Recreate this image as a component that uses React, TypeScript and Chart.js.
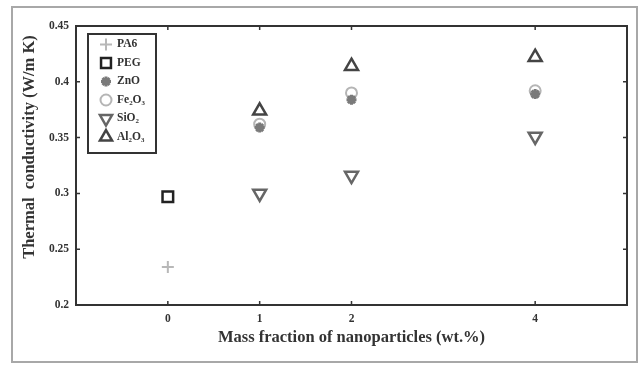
import React, { useEffect, useRef } from "react";
import { Chart, registerables } from "chart.js";

Chart.register(...registerables);

const xTicks = [0, 1, 2, 4];
const yTicks = [0.2, 0.25, 0.3, 0.35, 0.4, 0.45];
const seriesNames = ["PA6", "PEG", "ZnO", "Fe₂O₃", "SiO₂", "Al₂O₃"];
const pa6X = [0];
const pa6Y = [0.234];
const pegX = [0];
const pegY = [0.297];
const znoX = [1, 2, 4];
const znoY = [0.359, 0.384, 0.389];
const fe2o3X = [1, 2, 4];
const fe2o3Y = [0.362, 0.39, 0.392];
const sio2X = [1, 2, 4];
const sio2Y = [0.3, 0.316, 0.351];
const al2o3X = [1, 2, 4];
const al2o3Y = [0.374, 0.414, 0.422];

const FONT = "'Liberation Serif', 'Times New Roman', serif";

const styles = [
  { color: "#b8b8b8", style: "cross", radius: 6, bw: 2, rot: 0 },
  { color: "#222222", style: "rect", radius: 7.5, bw: 2.5, rot: 0 },
  { color: "#7a7a7a", style: "star", radius: 5, bw: 3, rot: 0 },
  { color: "#b5b5b5", style: "circle", radius: 5.5, bw: 2, rot: 0 },
  { color: "#666666", style: "triangle", radius: 7.5, bw: 2.5, rot: 180 },
  { color: "#444444", style: "triangle", radius: 7.5, bw: 2.5, rot: 0 },
];

function pts(xs: number[], ys: number[]) {
  return xs.map((x, i) => ({ x, y: ys[i] }));
}

function drawMarker(ctx: CanvasRenderingContext2D, s: any, x: number, y: number) {
  ctx.save();
  ctx.strokeStyle = s.color;
  ctx.fillStyle = s.color;
  ctx.lineWidth = s.bw;
  ctx.beginPath();
  const r = s.radius;
  if (s.style === "cross") {
    ctx.moveTo(x - r, y); ctx.lineTo(x + r, y);
    ctx.moveTo(x, y - r); ctx.lineTo(x, y + r);
    ctx.stroke();
  } else if (s.style === "rect") {
    const h = Math.SQRT1_2 * r;
    ctx.rect(x - h, y - h, 2 * h, 2 * h);
    ctx.stroke();
  } else if (s.style === "star") {
    for (let k = 0; k < 4; k++) {
      const a = (k * Math.PI) / 4;
      ctx.moveTo(x + Math.sin(a) * r, y - Math.cos(a) * r);
      ctx.lineTo(x - Math.sin(a) * r, y + Math.cos(a) * r);
    }
    ctx.stroke();
  } else if (s.style === "circle") {
    ctx.arc(x, y, r, 0, Math.PI * 2);
    ctx.stroke();
  } else if (s.style === "triangle") {
    let a = (s.rot * Math.PI) / 180;
    ctx.moveTo(x + Math.sin(a) * r, y - Math.cos(a) * r);
    for (let k = 0; k < 2; k++) {
      a += (2 * Math.PI) / 3;
      ctx.lineTo(x + Math.sin(a) * r, y - Math.cos(a) * r);
    }
    ctx.closePath();
    ctx.stroke();
  }
  ctx.restore();
}

const decorPlugin = {
  id: "decor",
  afterDraw(chart: any) {
    const ctx: CanvasRenderingContext2D = chart.ctx;
    const { left, right, top, bottom } = chart.chartArea;
    const xs = chart.scales.x;
    const ys = chart.scales.y;
    ctx.save();
    // outer frame
    ctx.strokeStyle = "#a8a8a8";
    ctx.lineWidth = 2;
    ctx.strokeRect(12, 7, 625, 355);
    // plot frame
    ctx.strokeStyle = "#333333";
    ctx.lineWidth = 2;
    ctx.strokeRect(left, top, right - left, bottom - top);
    // inward ticks
    ctx.lineWidth = 1.5;
    ctx.beginPath();
    xTicks.forEach((v) => {
      const px = xs.getPixelForValue(v);
      ctx.moveTo(px, bottom); ctx.lineTo(px, bottom - 4);
      ctx.moveTo(px, top); ctx.lineTo(px, top + 4);
    });
    yTicks.forEach((v) => {
      const py = ys.getPixelForValue(v);
      ctx.moveTo(left, py); ctx.lineTo(left + 4, py);
      ctx.moveTo(right, py); ctx.lineTo(right - 4, py);
    });
    ctx.stroke();
    // axis titles
    ctx.fillStyle = "#333333";
    ctx.font = "bold 16.5px " + FONT;
    ctx.textAlign = "center";
    ctx.textBaseline = "middle";
    ctx.fillText("Mass fraction of nanoparticles (wt.%)", (left + right) / 2, 338);
    ctx.save();
    ctx.translate(30, 147);
    ctx.rotate(-Math.PI / 2);
    ctx.fillText("Thermal  conductivity (W/m K)", 0, 0);
    ctx.restore();
    // legend
    const lx = 88, ly = 34, lw = 68, lh = 119;
    ctx.fillStyle = "#ffffff";
    ctx.fillRect(lx, ly, lw, lh);
    ctx.strokeStyle = "#333333";
    ctx.lineWidth = 2;
    ctx.strokeRect(lx, ly, lw, lh);
    ctx.font = "bold 11.5px " + FONT;
    ctx.textAlign = "left";
    ctx.fillStyle = "#333333";
    seriesNames.forEach((name, i) => {
      const y = 44.5 + i * 18.5;
      const s = { ...styles[i], radius: Math.min(styles[i].radius, 7) };
      drawMarker(ctx, s, 106, y);
      ctx.fillStyle = "#333333";
      ctx.fillText(name, 117, y);
    });
    ctx.restore();
  },
};

export default function App() {
  const ref = useRef<HTMLCanvasElement>(null);
  useEffect(() => {
    document.body.style.margin = "0";
    const datasets = [
      [pa6X, pa6Y], [pegX, pegY], [znoX, znoY], [fe2o3X, fe2o3Y], [sio2X, sio2Y], [al2o3X, al2o3Y],
    ].map(([xs, ys], i) => ({
      label: seriesNames[i],
      data: pts(xs, ys),
      pointStyle: styles[i].style as any,
      pointRadius: styles[i].radius,
      pointRotation: styles[i].rot,
      pointBorderWidth: styles[i].bw,
      borderColor: styles[i].color,
      backgroundColor: "rgba(0,0,0,0)",
      showLine: false,
    }));
    const chart = new Chart(ref.current!, {
      type: "scatter",
      data: { datasets },
      options: {
        animation: false,
        responsive: false,
        layout: { padding: { left: 0, top: 26, right: 12, bottom: 0 } },
        plugins: { legend: { display: false }, tooltip: { enabled: false } },
        scales: {
          x: {
            type: "linear",
            min: -1,
            max: 5,
            afterBuildTicks: (axis: any) => {
              axis.ticks = xTicks.map((v) => ({ value: v }));
            },
            afterFit: (axis: any) => {
              axis.height = 60;
            },
            grid: { display: false, drawTicks: false },
            border: { display: false },
            ticks: {
              padding: 7,
              color: "#333333",
              font: { family: FONT, size: 11.5, weight: "bold" },
              callback: (v: any) => String(v),
            },
          },
          y: {
            type: "linear",
            min: 0.2,
            max: 0.45,
            afterBuildTicks: (axis: any) => {
              axis.ticks = yTicks.map((v) => ({ value: v }));
            },
            afterFit: (axis: any) => {
              axis.width = 76;
            },
            grid: { display: false, drawTicks: false },
            border: { display: false },
            ticks: {
              padding: 7,
              color: "#333333",
              font: { family: FONT, size: 11.5, weight: "bold" },
              callback: (v: any) => String(Math.round(v * 100) / 100),
            },
          },
        },
      },
      plugins: [decorPlugin],
    });
    return () => chart.destroy();
  }, []);
  return <canvas ref={ref} width={639} height={365} style={{ display: "block" }} />;
}
